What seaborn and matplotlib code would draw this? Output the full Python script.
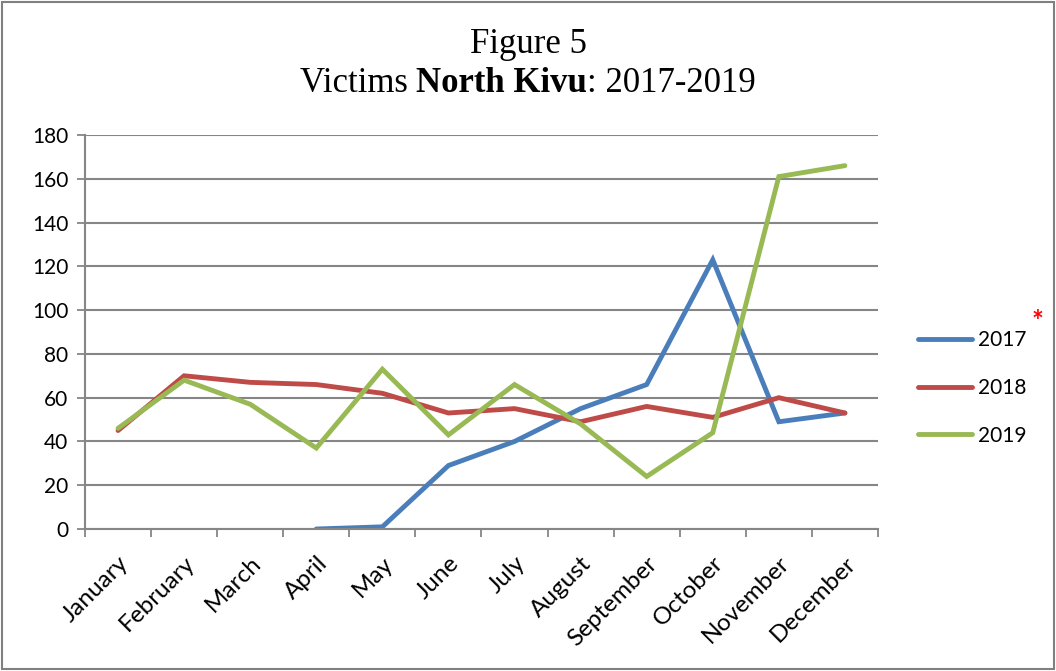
import numpy as np
import pandas as pd
import seaborn as sns
import matplotlib.pyplot as plt
import matplotlib.transforms as mtransforms
from matplotlib.lines import Line2D
from matplotlib.patches import Rectangle

months = ["January", "February", "March", "April", "May", "June", "July",
          "August", "September", "October", "November", "December"]
years = ["2017", "2018", "2019"]
victims_2017 = [np.nan, np.nan, np.nan, 0, 1, 29, 40, 55, 66, 123, 49, 53]
victims_2018 = [45, 70, 67, 66, 62, 53, 55, 49, 56, 51, 60, 53]
victims_2019 = [46, 68, 57, 37, 73, 43, 66, 48, 24, 44, 161, 166]
y_ticks = [0, 20, 40, 60, 80, 100, 120, 140, 160, 180]

colors = {"2017": "#4A7EBB", "2018": "#BE4B48", "2019": "#98B954"}
grid_gray = "#868686"

df = pd.DataFrame({
    "month_idx": list(range(12)) * 3,
    "victims": victims_2017 + victims_2018 + victims_2019,
    "year": [y for y in years for _ in range(12)],
})

sns.set_theme(style="white")
plt.rcParams["font.family"] = ["Lato", "DejaVu Sans"]
plt.rcParams["text.color"] = "black"
plt.rcParams["xtick.color"] = "black"
plt.rcParams["ytick.color"] = "black"

fig = plt.figure(figsize=(10.56, 6.71), dpi=100)
ax = fig.add_axes([0.0805, 0.2116, 0.7509, 0.5872])

sns.lineplot(data=df, x="month_idx", y="victims", hue="year",
             palette=colors, linewidth=3.5, ax=ax, legend=False,
             solid_capstyle="round", solid_joinstyle="miter")

ax.set_xlim(-0.5, 11.5)
ax.set_ylim(0, 180)
ax.set_yticks(y_ticks)
ax.set_yticklabels([str(v) for v in y_ticks], fontsize=15)
ax.set_xticks(range(12))
ax.set_xticklabels(months, rotation=45, ha="right", va="top",
                   rotation_mode="anchor", fontsize=17.5)
shift = mtransforms.ScaledTranslation(-6 / 100, 0, fig.dpi_scale_trans)
for lbl in ax.get_xticklabels():
    lbl.set_transform(lbl.get_transform() + shift)
ax.set_xticks(np.arange(-0.5, 12, 1), minor=True)
ax.tick_params(axis="x", which="major", length=0, pad=17)
ax.tick_params(axis="x", which="minor", length=6, width=1.3, color=grid_gray,
               direction="out", bottom=True)
ax.tick_params(axis="y", length=6, width=1.3, color=grid_gray,
               direction="out", left=True, pad=6)
ax.set_xlabel("")
ax.set_ylabel("")

ax.grid(axis="y", color=grid_gray, linewidth=1.5)
ax.set_axisbelow(True)
for side in ["top", "right"]:
    ax.spines[side].set_visible(False)
for side in ["left", "bottom"]:
    ax.spines[side].set_color(grid_gray)
    ax.spines[side].set_linewidth(1.5)

# Legend on the right
handles = [Line2D([0], [0], color=colors[y], linewidth=3.5,
                  solid_capstyle="round") for y in years]
fig.legend(handles, years, loc="center left", bbox_to_anchor=(0.8615, 0.422),
           frameon=False, fontsize=15, handlelength=2.6, handletextpad=0.3,
           labelspacing=1.34, borderaxespad=0)
fig.text(0.982, 0.52, "*", color="red", fontsize=20, fontweight="bold",
         ha="center", va="center")

# Title: two lines, second with a bold segment
serif = ["Liberation Serif", "DejaVu Serif"]
title_size = 25
fig.text(0.5, 0.933, "Figure 5", ha="center", va="center",
         fontsize=title_size, family=serif)
fig.canvas.draw()
renderer = fig.canvas.get_renderer()
parts = [("Victims ", "normal"), ("North Kivu", "bold"), (": 2017-2019", "normal")]
widths = []
for s, w in parts:
    t = fig.text(0, 0, s, fontsize=title_size, family=serif, fontweight=w)
    widths.append(t.get_window_extent(renderer).width)
    t.remove()
total = sum(widths)
x0 = 0.5 - total / 2 / fig.bbox.width
for (s, w), wd in zip(parts, widths):
    fig.text(x0, 0.876, s, ha="left", va="center", fontsize=title_size,
             family=serif, fontweight=w)
    x0 += wd / fig.bbox.width

# Outer frame
fig.patches.append(Rectangle((0.0015, 0.0025), 0.997, 0.995, transform=fig.transFigure,
                             fill=False, edgecolor="#808080", linewidth=1.5))

fig.savefig("out.png", dpi=100)
